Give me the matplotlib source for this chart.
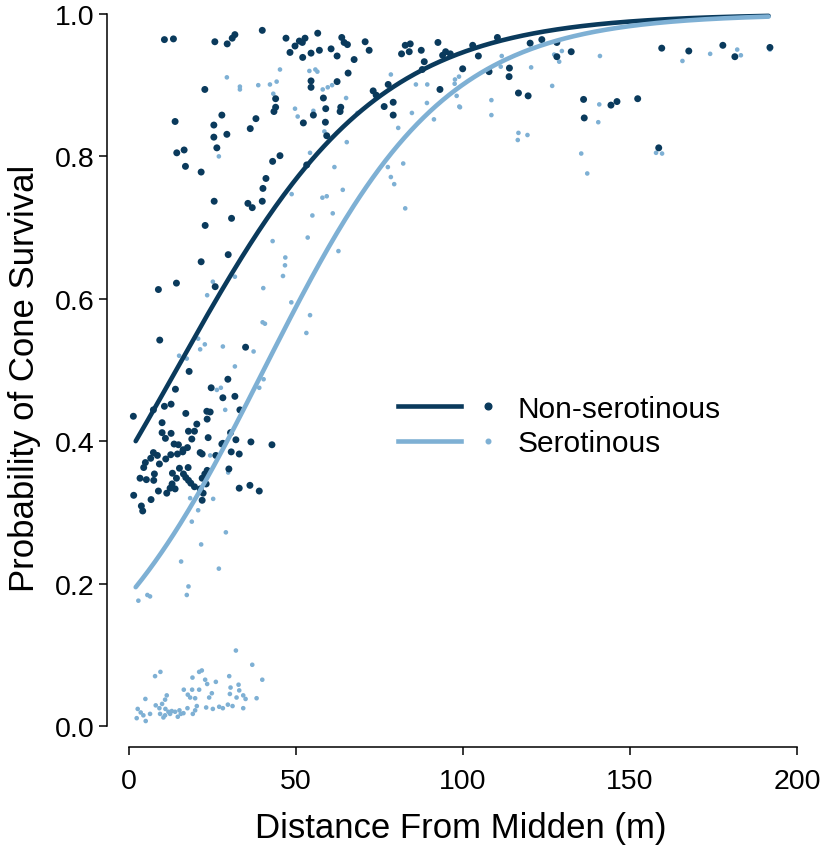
import matplotlib
matplotlib.use("Agg")
import matplotlib.pyplot as plt
import numpy as np
from matplotlib.lines import Line2D

plt.rcParams['font.family'] = ['Liberation Sans', 'DejaVu Sans']

DARK = '#0a3a5c'
LIGHT = '#7eb0d4'

# Non-serotinous cones (distance m, survival)
nonser_x = [10.6, 13.3, 25.7, 29.4, 30.9, 31.7, 39.9, 22.7, 43.9, 43.9, 43.4, 13.8, 27.8, 25.4,
            38.0, 36.3, 25.4, 29.3, 26.3, 14.3, 16.5, 16.9, 21.6, 43.0, 45.2, 41.0, 40.1, 39.9,
            35.6, 36.9, 25.5, 30.7, 22.8, 29.7, 47.0, 49.7, 51.0, 52.7, 51.9, 56.5, 48.2, 52.0,
            54.5, 57.0, 60.5, 62.3, 63.7, 64.4, 65.4, 67.4, 70.7, 71.9, 65.6, 62.3, 54.5, 54.5,
            58.2, 58.9, 55.2, 52.2, 58.8, 59.2, 63.4, 63.2, 73.1, 74.0, 77.6, 76.4, 79.1, 79.1,
            82.7, 84.2, 83.9, 81.6, 87.5, 88.4, 87.8, 92.5, 93.9, 94.8, 96.2, 93.1, 53.2, 99.9,
            102.9, 104.6, 107.8, 110.3, 113.9, 113.8, 116.6, 119.5, 120.1, 123.6, 128.1, 128.1,
            132.4, 136.1, 136.3, 144.3, 146.1, 152.3, 158.6, 159.5, 167.6, 177.8, 181.4, 191.9,
            21.6, 14.2, 8.8, 25.8, 9.2, 34.9, 18.0, 1.3, 13.9, 24.6, 29.6, 28.1, 31.7, 12.6,
            10.6, 7.3, 17.0, 23.3, 24.3, 33.2, 23.4, 9.9, 20.3, 17.8, 19.6, 9.9, 12.6, 30.4,
            23.7, 10.9, 18.8, 28.1, 32.0, 36.5, 42.8, 7.3, 6.5, 8.5, 4.9, 4.4, 9.1, 11.0,
            12.5, 13.5, 14.8, 14.5, 16.2, 17.5, 16.1, 21.3, 21.9, 26.0, 27.8, 30.6, 33.0, 15.1,
            17.7, 13.0, 14.2, 16.3, 17.0, 17.8, 18.5, 19.6, 7.6, 7.4, 3.3, 5.2, 12.9, 12.3,
            13.8, 11.3, 8.8, 1.4, 6.6, 3.7, 4.1, 21.9, 22.7, 23.4, 23.1, 21.3, 22.2, 21.9,
            29.9, 33.0, 36.2, 39.0]
nonser_y = [0.964, 0.965, 0.961, 0.958, 0.966, 0.971, 0.977, 0.894, 0.881, 0.869, 0.863, 0.849,
            0.858, 0.844, 0.853, 0.839, 0.827, 0.831, 0.812, 0.805, 0.809, 0.786, 0.778, 0.793,
            0.801, 0.769, 0.755, 0.737, 0.734, 0.728, 0.737, 0.713, 0.703, 0.662, 0.966, 0.955,
            0.962, 0.966, 0.960, 0.973, 0.946, 0.939, 0.945, 0.949, 0.951, 0.941, 0.967, 0.960,
            0.957, 0.936, 0.961, 0.949, 0.917, 0.905, 0.906, 0.897, 0.882, 0.867, 0.858, 0.847,
            0.848, 0.829, 0.869, 0.863, 0.892, 0.886, 0.901, 0.870, 0.876, 0.858, 0.956, 0.958,
            0.947, 0.944, 0.949, 0.933, 0.922, 0.960, 0.942, 0.947, 0.944, 0.894, 0.788, 0.923,
            0.956, 0.941, 0.919, 0.967, 0.924, 0.912, 0.889, 0.885, 0.959, 0.964, 0.960, 0.940,
            0.947, 0.880, 0.854, 0.872, 0.877, 0.881, 0.812, 0.952, 0.948, 0.956, 0.940, 0.953,
            0.652, 0.622, 0.613, 0.617, 0.542, 0.532, 0.498, 0.435, 0.473, 0.475, 0.487, 0.461,
            0.463, 0.452, 0.449, 0.444, 0.439, 0.442, 0.441, 0.444, 0.431, 0.426, 0.424, 0.414,
            0.414, 0.412, 0.411, 0.412, 0.405, 0.404, 0.403, 0.397, 0.402, 0.399, 0.395, 0.384,
            0.376, 0.380, 0.370, 0.363, 0.368, 0.375, 0.381, 0.396, 0.395, 0.382, 0.388, 0.391,
            0.385, 0.384, 0.382, 0.380, 0.396, 0.385, 0.382, 0.362, 0.363, 0.355, 0.348, 0.354,
            0.349, 0.345, 0.341, 0.336, 0.354, 0.345, 0.348, 0.346, 0.340, 0.334, 0.333, 0.327,
            0.330, 0.324, 0.318, 0.309, 0.302, 0.348, 0.354, 0.359, 0.340, 0.333, 0.327, 0.317,
            0.361, 0.334, 0.338, 0.330]

# Serotinous cones
ser_x = [29.3, 33.2, 33.2, 38.7, 42.2, 44.2, 45.2, 43.2, 26.9, 43.0, 54.0, 55.8, 56.4, 58.0,
         59.5, 60.8, 49.7, 50.5, 55.2, 65.0, 68.4, 78.4, 80.6, 84.7, 85.9, 89.3, 89.2, 91.3,
         97.6, 97.5, 98.8, 98.9, 58.5, 65.2, 54.2, 61.5, 82.1, 77.5, 78.4, 79.4, 64.0, 48.7,
         57.9, 59.2, 61.0, 54.9, 82.7, 53.5, 46.8, 62.7, 98.1, 99.1, 111.6, 111.3, 108.5, 108.5,
         120.4, 126.7, 127.3, 128.8, 129.6, 141.0, 116.6, 116.4, 119.3, 135.4, 137.2, 140.8,
         140.5, 157.8, 159.6, 165.7, 174.0, 182.1, 183.2, 191.9,
         46.7, 46.1, 40.2, 48.6, 25.1, 23.4, 31.7, 40.0, 40.7, 20.7, 22.7, 21.3, 28.1, 37.3,
         15.0, 17.3, 31.7, 40.3, 39.0, 27.5, 26.3, 28.8, 54.2, 53.1, 24.3, 29.7, 18.3, 20.7,
         25.2, 18.8, 29.0, 21.6, 15.6, 26.9, 17.8, 17.3, 5.5, 6.3, 2.8,
         32.0, 36.9, 39.9, 7.8, 9.4, 21.0, 21.8, 19.0, 22.8, 23.4, 26.0, 30.0, 30.4, 32.8,
         33.0, 30.2, 34.2, 32.2, 34.9, 38.2, 16.4, 18.9, 21.0, 17.6, 18.3, 19.8, 24.8, 24.0,
         11.3, 10.8, 4.9, 8.0, 9.9, 9.1, 10.9, 11.8, 12.8, 13.8, 15.1, 16.3, 17.5, 20.3,
         19.8, 19.1, 23.1, 25.1, 27.0, 28.1, 29.6, 31.0, 34.2, 2.6, 3.5, 2.3, 4.3, 5.0,
         6.3, 9.3, 10.8, 12.3, 10.3, 14.6, 15.5]
ser_y = [0.911, 0.898, 0.894, 0.900, 0.901, 0.905, 0.922, 0.888, 0.800, 0.681, 0.920, 0.922,
         0.919, 0.894, 0.897, 0.900, 0.867, 0.856, 0.864, 0.882, 0.861, 0.915, 0.840, 0.861,
         0.901, 0.901, 0.875, 0.852, 0.908, 0.902, 0.912, 0.870, 0.835, 0.820, 0.805, 0.785,
         0.790, 0.785, 0.771, 0.761, 0.753, 0.747, 0.742, 0.744, 0.720, 0.717, 0.727, 0.686,
         0.658, 0.667, 0.885, 0.869, 0.941, 0.926, 0.879, 0.858, 0.925, 0.899, 0.943, 0.933,
         0.948, 0.941, 0.833, 0.823, 0.830, 0.804, 0.776, 0.873, 0.848, 0.805, 0.804, 0.934,
         0.944, 0.950, 0.942, 0.950,
         0.647, 0.632, 0.615, 0.595, 0.624, 0.605, 0.631, 0.567, 0.565, 0.544, 0.536, 0.529,
         0.533, 0.526, 0.520, 0.516, 0.505, 0.487, 0.475, 0.475, 0.472, 0.444, 0.577, 0.552,
         0.380, 0.356, 0.320, 0.303, 0.319, 0.287, 0.272, 0.255, 0.231, 0.221, 0.196, 0.184,
         0.184, 0.182, 0.176,
         0.106, 0.086, 0.065, 0.070, 0.076, 0.076, 0.078, 0.068, 0.065, 0.059, 0.062, 0.070,
         0.054, 0.058, 0.050, 0.045, 0.043, 0.040, 0.038, 0.039, 0.051, 0.051, 0.051, 0.044,
         0.040, 0.039, 0.046, 0.040, 0.043, 0.037, 0.038, 0.029, 0.031, 0.025, 0.024, 0.020,
         0.021, 0.020, 0.022, 0.018, 0.025, 0.028, 0.022, 0.017, 0.026, 0.024, 0.027, 0.025,
         0.030, 0.028, 0.025, 0.024, 0.019, 0.011, 0.015, 0.007, 0.017, 0.017, 0.015, 0.017,
         0.012, 0.013, 0.017]

# logistic fits (intercept, slope)
nonser_fit = (-0.472, 0.0334)
ser_fit = (-1.492, 0.0370)
fit_range = (2, 191.5)

fig = plt.figure(figsize=(8.26, 8.54), dpi=100)
ax = fig.add_axes([0.1295, 0.1237, 0.8556, 0.8671])

ax.scatter(ser_x, ser_y, s=11, color=LIGHT, edgecolors='none', zorder=2)
ax.scatter(nonser_x, nonser_y, s=25, color=DARK, edgecolors='none', zorder=3)

xx = np.linspace(fit_range[0], fit_range[1], 300)
for (a, b), col in [(nonser_fit, DARK), (ser_fit, LIGHT)]:
    p = 1 / (1 + np.exp(-(a + b * xx)))
    ax.plot(xx, p, color=col, lw=3.3, solid_capstyle='round', zorder=4)

ax.set_xlim(-6.6, 205)
ax.set_ylim(-0.03, 1.01)
for s in ['top', 'right']:
    ax.spines[s].set_visible(False)
ax.spines['left'].set_bounds(0, 1)
ax.spines['bottom'].set_bounds(0, 200)
for s in ['left', 'bottom']:
    ax.spines[s].set_linewidth(1.1)
ax.set_xticks([0, 50, 100, 150, 200])
ax.set_yticks([0.0, 0.2, 0.4, 0.6, 0.8, 1.0])
ax.set_yticklabels(['0.0', '0.2', '0.4', '0.6', '0.8', '1.0'])
ax.tick_params(axis='both', direction='out', length=6, width=1.1, labelsize=20.5)
ax.tick_params(axis='x', pad=9)
ax.tick_params(axis='y', pad=3)
ax.set_xlabel('Distance From Midden (m)', fontsize=25, labelpad=12)
ax.set_ylabel('Probability of Cone Survival', fontsize=25, labelpad=10)


class LinePointHandler:
    def legend_artist(self, legend, orig_handle, fontsize, handlebox):
        x0, y0 = handlebox.xdescent, handlebox.ydescent
        w, h = handlebox.width, handlebox.height
        col, ms = orig_handle
        ln = Line2D([x0, x0 + 0.63 * w], [y0 + h / 2] * 2, color=col, lw=3.3)
        dot = Line2D([x0 + 0.9 * w], [y0 + h / 2], marker='o', ms=ms, color=col, lw=0)
        handlebox.add_artist(ln)
        handlebox.add_artist(dot)
        return ln


leg_handles = [(DARK, 4.8), (LIGHT, 3.3)]
ax.legend(leg_handles, ['Non-serotinous', 'Serotinous'],
          handler_map={tuple: LinePointHandler()},
          loc='center left', bbox_to_anchor=(398 / 826, 1 - 427 / 854),
          bbox_transform=fig.transFigure, frameon=False, fontsize=21.5,
          handlelength=3.35, handletextpad=0.65, labelspacing=0.22, borderpad=0,
          borderaxespad=0)

fig.savefig('out.png', dpi=100)
